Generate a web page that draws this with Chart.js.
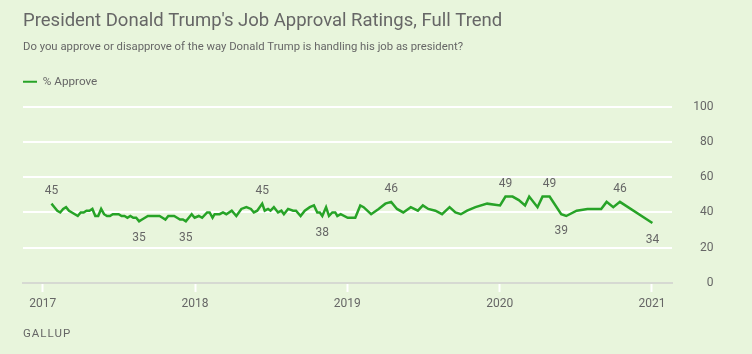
<!DOCTYPE html>
<html>
<head>
<meta charset="utf-8">
<script src="https://cdn.jsdelivr.net/npm/chart.js@4"></script>
<style>
  html, body { margin: 0; padding: 0; background: #e8f5dc; }
  #wrap { position: relative; width: 752px; height: 354px; }
</style>
</head>
<body>
<div id="wrap"><canvas id="trend"></canvas></div>
<script>
const dates = [
  '2017-01-22','2017-01-29','2017-02-05','2017-02-12','2017-02-19','2017-02-26','2017-03-05','2017-03-12',
  '2017-03-19','2017-03-26','2017-04-02','2017-04-09','2017-04-16','2017-04-23','2017-04-30','2017-05-07',
  '2017-05-14','2017-05-21','2017-05-28','2017-06-04','2017-06-11','2017-06-18','2017-06-25','2017-07-02',
  '2017-07-09','2017-07-16','2017-07-23','2017-07-30','2017-08-06','2017-08-13','2017-08-20','2017-08-27',
  '2017-09-03','2017-09-10','2017-09-17','2017-09-24','2017-10-01','2017-10-08','2017-10-15','2017-10-22',
  '2017-10-29','2017-11-05','2017-11-12','2017-11-19','2017-11-26','2017-12-03','2017-12-10','2017-12-17',
  '2017-12-24','2017-12-31',
  '2018-01-10','2018-01-18','2018-01-30','2018-02-05','2018-02-12','2018-02-17','2018-03-01','2018-03-09',
  '2018-03-17','2018-03-30','2018-04-10','2018-04-22','2018-05-04','2018-05-15','2018-05-22','2018-05-30',
  '2018-06-11','2018-06-17','2018-06-25','2018-07-01','2018-07-09','2018-07-19','2018-07-27','2018-08-02',
  '2018-08-12','2018-08-24','2018-08-31','2018-09-11','2018-09-21','2018-10-03','2018-10-13','2018-10-21',
  '2018-10-27','2018-11-02','2018-11-11','2018-11-18','2018-11-26','2018-12-03','2018-12-08','2018-12-16',
  '2019-01-02','2019-01-20','2019-02-01','2019-02-09','2019-02-27','2019-03-17','2019-04-02','2019-04-16',
  '2019-04-30','2019-05-15','2019-06-02','2019-06-19','2019-07-01','2019-07-14','2019-07-31','2019-08-16',
  '2019-09-03','2019-09-17','2019-09-30','2019-10-15','2019-11-04','2019-12-02',
  '2020-01-02','2020-01-15','2020-02-01','2020-02-16','2020-03-02','2020-03-12','2020-04-01','2020-04-13',
  '2020-04-30','2020-05-28','2020-06-09','2020-07-04','2020-07-30','2020-09-01','2020-09-14','2020-09-30',
  '2020-10-16','2021-01-02'
];
const approve = [
  45, 43, 41, 40, 42, 43, 41, 40, 39, 38, 40, 40, 41, 41, 42, 38,
  38, 42, 39, 38, 38, 39, 39, 39, 38, 38, 37, 38, 37, 37, 35, 36,
  37, 38, 38, 38, 38, 38, 37, 36, 38, 38, 38, 37, 36, 36, 35, 37,
  39, 37,
  38, 37, 40, 40, 37, 39, 39, 40, 39, 41, 38, 42, 43, 42, 40, 41,
  45, 41, 42, 41, 43, 40, 41, 39, 42, 41, 41, 38, 41, 43, 44, 40,
  40, 38, 43, 38, 40, 40, 38, 39,
  37, 37, 44, 43, 39, 42, 45, 46, 42, 40, 43, 41, 44, 42, 41, 39,
  43, 40, 39, 41, 43, 45,
  44, 49, 49, 47, 44, 49, 43, 49, 49, 39, 38, 41, 42, 42, 46, 43,
  46, 34
];
const tickYears = [2017, 2018, 2019, 2020, 2021];
const yTicks = [0, 20, 40, 60, 80, 100];
// which readings get a number printed above / below the line
const peakLabels = ['2017-01-22', '2018-06-11', '2019-04-16', '2020-01-15', '2020-04-30', '2020-10-16'];
const lowLabels = ['2017-08-20', '2017-12-10', '2018-11-02', '2020-05-28', '2021-01-02'];

const green = '#27a327';
const grey = '#666666';
const baseGrey = '#d6d9d2';

function decYear(s) {
  const [y, m, d] = s.split('-').map(Number);
  const start = Date.UTC(y, 0, 1);
  return y + (Date.UTC(y, m - 1, d) - start) / (Date.UTC(y + 1, 0, 1) - start);
}

const points = dates.map((d, i) => ({ x: decYear(d), y: approve[i] }));

Chart.defaults.font.family = 'Roboto';
Chart.defaults.color = grey;

// push the plot a bit further below the legend
const legendGap = {
  id: 'legendGap',
  beforeInit(chart) {
    const fit = chart.legend.fit;
    chart.legend.fit = function () {
      fit.call(this);
      this.height += 9;
    };
  }
};

const pointLabels = {
  id: 'pointLabels',
  afterDatasetsDraw(chart) {
    const ctx = chart.ctx;
    const pts = chart.getDatasetMeta(0).data;
    ctx.save();
    ctx.font = '12px Roboto';
    ctx.fillStyle = grey;
    ctx.textAlign = 'center';
    ctx.textBaseline = 'middle';
    dates.forEach((d, i) => {
      if (peakLabels.includes(d)) ctx.fillText(approve[i], pts[i].x, pts[i].y - 13);
      else if (lowLabels.includes(d)) ctx.fillText(approve[i], pts[i].x, pts[i].y + 17);
    });
    ctx.textAlign = 'left';
    ctx.font = '11.5px Roboto';
    ctx.letterSpacing = '1px';
    ctx.fillText('GALLUP', chart.chartArea.left, 334);
    ctx.restore();
  }
};

new Chart(document.getElementById('trend'), {
  type: 'line',
  data: {
    datasets: [{
      label: '% Approve',
      data: points,
      borderColor: green,
      backgroundColor: green,
      borderWidth: 2.5,
      pointRadius: 0,
      tension: 0
    }]
  },
  options: {
    responsive: true,
    maintainAspectRatio: false,
    animation: false,
    layout: { padding: { left: 23, right: 38.5, top: 0, bottom: 37.6 } },
    plugins: {
      title: {
        display: true,
        text: "President Donald Trump's Job Approval Ratings, Full Trend",
        align: 'start',
        color: grey,
        font: { size: 18.5, weight: 'normal' },
        padding: { top: 10, bottom: 8 }
      },
      subtitle: {
        display: true,
        text: 'Do you approve or disapprove of the way Donald Trump is handling his job as president?',
        align: 'start',
        color: grey,
        font: { size: 11.3 },
        padding: { top: 0, bottom: 22.2 }
      },
      legend: {
        align: 'start',
        labels: {
          padding: 0,
          boxWidth: 14,
          boxHeight: 2,
          color: grey,
          font: { size: 11.7 },
          generateLabels: chart => Chart.defaults.plugins.legend.labels.generateLabels(chart)
            .map(l => ({ ...l, lineWidth: 0, fillStyle: green }))
        }
      },
      tooltip: { enabled: false }
    },
    scales: {
      x: {
        type: 'linear',
        min: 2016.8706,
        max: 2021.1333,
        afterBuildTicks: s => { s.ticks = tickYears.map(v => ({ value: v })); },
        ticks: { callback: v => String(v), padding: 5, color: grey, font: { size: 12 }, maxRotation: 0, autoSkip: false },
        grid: { drawOnChartArea: false, drawTicks: true, tickLength: 9, tickColor: '#ffffff', tickWidth: 2 },
        border: { color: baseGrey, width: 2 }
      },
      y: {
        position: 'right',
        min: 0,
        max: 100,
        afterBuildTicks: s => { s.ticks = yTicks.map(v => ({ value: v })); },
        ticks: { padding: 10.5, crossAlign: 'far', color: grey, font: { size: 12 } },
        grid: { color: c => c.tick && c.tick.value === 0 ? baseGrey : '#ffffff', lineWidth: 2, drawTicks: false },
        border: { display: false }
      }
    }
  },
  plugins: [legendGap, pointLabels]
});
</script>
</body>
</html>
